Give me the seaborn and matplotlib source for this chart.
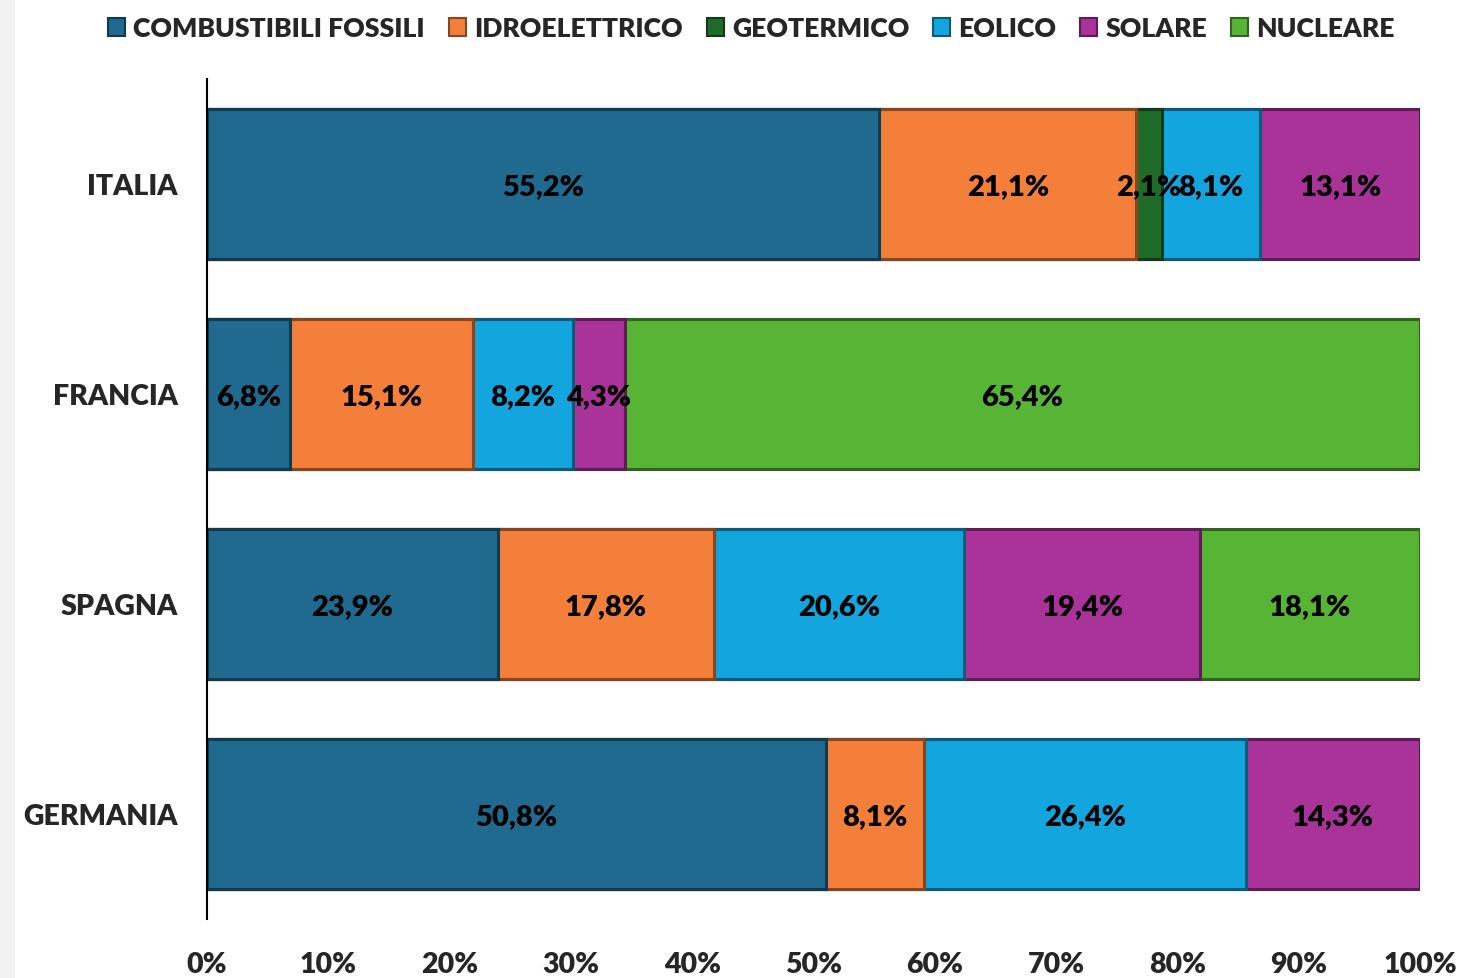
import numpy as np
import pandas as pd
import matplotlib
matplotlib.use("Agg")
import matplotlib.pyplot as plt
import matplotlib.colors as mcolors
from matplotlib.patches import Rectangle, Patch
import seaborn as sns

paesi = ["ITALIA", "FRANCIA", "SPAGNA", "GERMANIA"]
fonti = ["COMBUSTIBILI FOSSILI", "IDROELETTRICO", "GEOTERMICO", "EOLICO", "SOLARE", "NUCLEARE"]
fossili = [55.2, 6.8, 23.9, 50.8]
idro = [21.1, 15.1, 17.8, 8.1]
geo = [2.1, 0.0, 0.0, 0.0]
eolico = [8.1, 8.2, 20.6, 26.4]
solare = [13.1, 4.3, 19.4, 14.3]
nucleare = [0.0, 65.4, 18.1, 0.0]
colori = ["#1F6A8E", "#F47F3A", "#1E6B2A", "#13A6DE", "#A93399", "#58B434"]

df = pd.DataFrame(dict(zip(fonti, [fossili, idro, geo, eolico, solare, nucleare])), index=paesi)
# grafico 100% in pila
norm = df.div(df.sum(axis=1), axis=0) * 100
cum = norm.cumsum(axis=1)

sns.set_style("white")
plt.rcParams["font.family"] = ["Lato", "DejaVu Sans"]
W = "heavy"
plt.rcParams["font.weight"] = W

fig = plt.figure(figsize=(14.62, 9.79), dpi=100)
ax = fig.add_axes([0.1416, 0.0603, 0.8297, 0.858])
fig.patches.append(Rectangle((0, 0), 0.0103, 1, transform=fig.transFigure,
                             facecolor="#F2F2F2", edgecolor="none", zorder=-1))

# disegno dal cumulativo piu lungo al piu corto
for i in range(len(fonti) - 1, -1, -1):
    f = fonti[i]
    edge = tuple(c * 0.55 for c in mcolors.to_rgb(colori[i]))
    sns.barplot(x=cum[f].values, y=paesi, orient="h", color=colori[i], width=0.71,
                edgecolor=edge, linewidth=2.2, saturation=1, ax=ax)

for r, p in enumerate(paesi):
    left = 0
    for f in fonti:
        v = df.loc[p, f]
        w = norm.loc[p, f]
        if v > 0:
            ax.text(left + w / 2, r + 0.01, f"{v:.1f}%".replace(".", ","), ha="center", va="center",
                    fontsize=21, fontweight=W, color="black")
        left += w

ax.set_xlim(0, 100)
ax.set_ylim(3.5, -0.5)
ax.set_xticks(np.arange(0, 101, 10))
ax.set_xticklabels([f"{t}%" for t in range(0, 101, 10)])
ax.tick_params(axis="x", length=0, pad=23, labelsize=20.5)
ax.tick_params(axis="y", length=0, pad=21, labelsize=20.5)
for lab in ax.get_xticklabels() + ax.get_yticklabels():
    lab.set_fontweight(W)
ax.set_xlabel("")
ax.set_ylabel("")
for s in ["top", "right", "bottom"]:
    ax.spines[s].set_visible(False)
ax.spines["left"].set_color("black")
ax.spines["left"].set_linewidth(1.5)

handles = [Patch(facecolor=c, edgecolor=tuple(x * 0.55 for x in mcolors.to_rgb(c)), linewidth=1.5)
           for c in colori]
fig.legend(handles, fonti, loc="upper center", bbox_to_anchor=(0.514, 1.007), ncol=6,
           frameon=False, handlelength=0.65, handleheight=0.65,
           handletextpad=0.3, columnspacing=0.9, prop={"weight": W, "size": 19.1})

fig.savefig("out.png", dpi=100)
